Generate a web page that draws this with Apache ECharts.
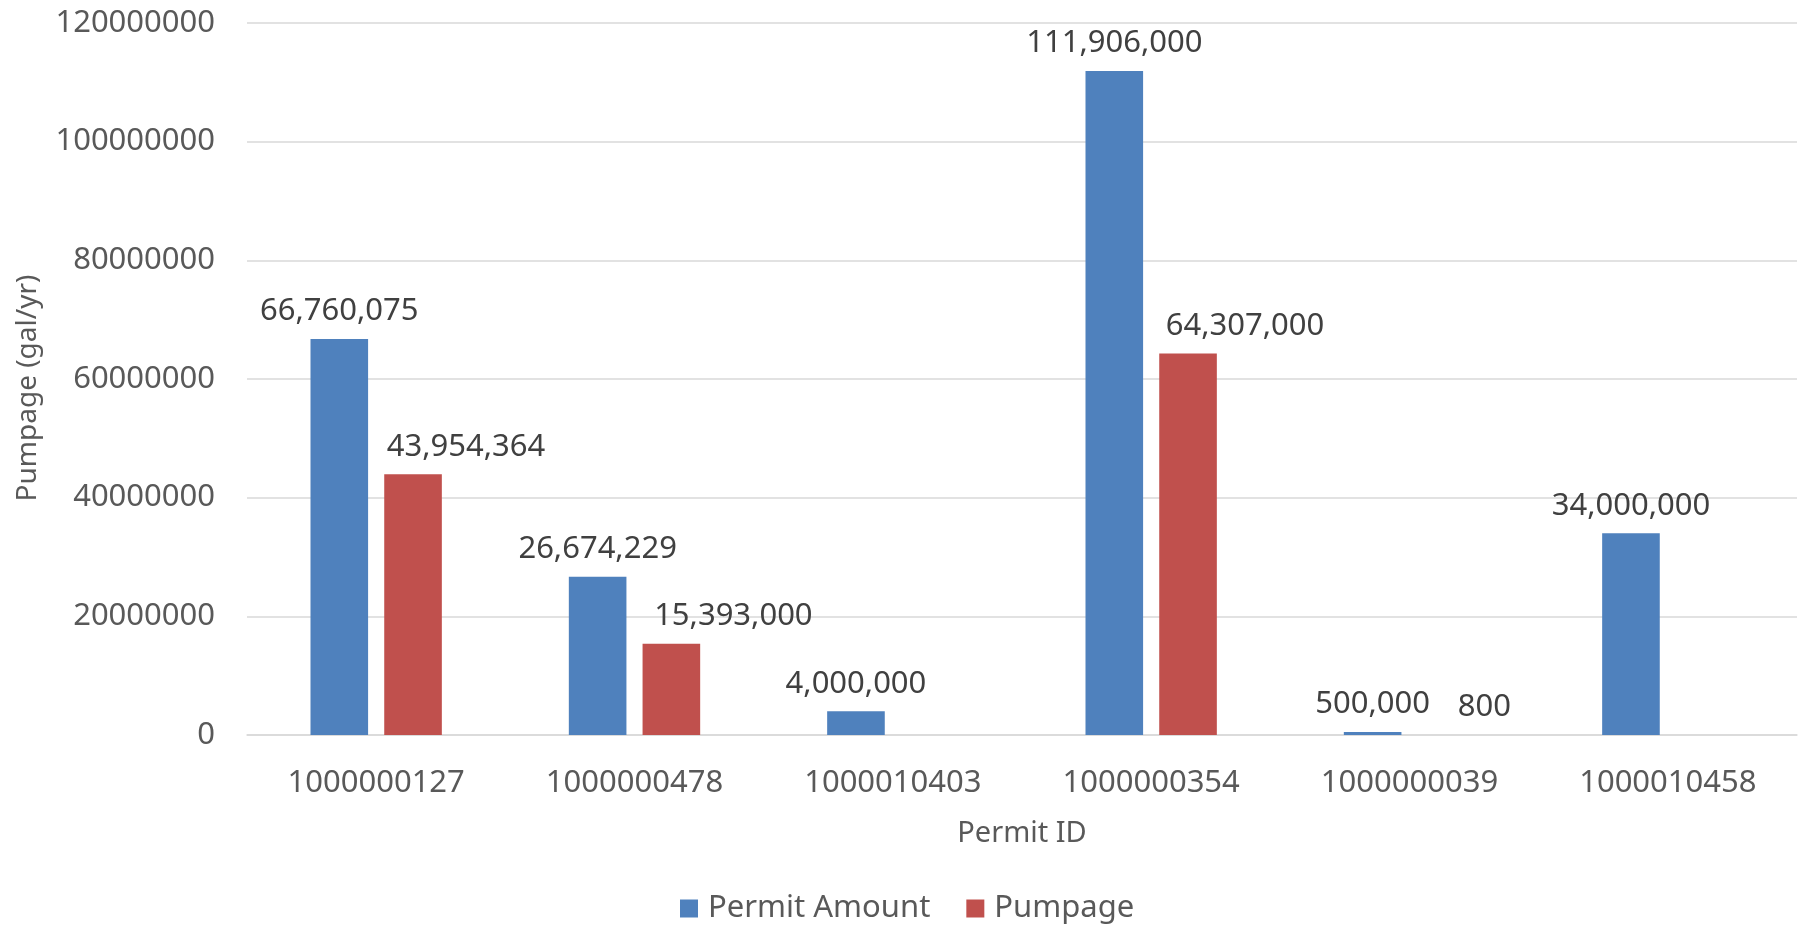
<!DOCTYPE html>
<html>
<head>
<meta charset="utf-8">
<script src="https://cdn.jsdelivr.net/npm/echarts@6/dist/echarts.min.js"></script>
<style>
  html, body { margin: 0; padding: 0; background: #fff; }
  #chart { width: 1805px; height: 925px; }
</style>
</head>
<body>
<div id="chart"></div>
<script>
var permitIds = ['1000000127', '1000000478', '1000010403', '1000000354', '1000000039', '1000010458'];
var permitAmount = [66760075, 26674229, 4000000, 111906000, 500000, 34000000];
var pumpage = [43954364, 15393000, null, 64307000, 800, null];
var yTicks = [0, 20000000, 40000000, 60000000, 80000000, 100000000, 120000000];

// Excel nudged the red labels sideways to dodge the blue ones
var pumpageLabelShift = [53, 62, 0, 57, 38, 0];

var myChart = echarts.init(document.getElementById('chart'));

function fmt(p) {
    return p.value == null ? '' : Number(p.value).toLocaleString('en-US');
}

var labelStyle = {
    show: true,
    position: 'top',
    distance: 12,
    fontFamily: 'Noto Sans',
    fontSize: 31,
    color: '#404040',
    formatter: fmt
};

option = {
    color: ['#4F81BD', '#C0504D'],
    textStyle: { fontFamily: 'Noto Sans' },
    grid: {
        left: 247,
        right: 8,
        top: 23,
        bottom: 190,
        outerBoundsMode: 'none',
        containLabel: false
    },
    legend: {
        bottom: -4,
        left: 675,
        icon: 'rect',
        itemWidth: 18,
        itemHeight: 18,
        itemGap: 36,
        textStyle: { fontSize: 31, color: '#595959', fontFamily: 'Noto Sans', padding: [0, 0, 0, 5] },
        data: ['Permit Amount', 'Pumpage']
    },
    xAxis: {
        type: 'category',
        data: permitIds,
        name: 'Permit ID',
        nameLocation: 'middle',
        nameGap: 84,
        nameTextStyle: { fontSize: 29, color: '#595959' },
        axisLine: { lineStyle: { color: '#D9D9D9', width: 1.5 } },
        axisTick: { show: false },
        axisLabel: { fontSize: 31, color: '#595959', margin: 33 }
    },
    yAxis: {
        type: 'value',
        min: yTicks[0],
        max: yTicks[yTicks.length - 1],
        interval: yTicks[1] - yTicks[0],
        name: 'Pumpage (gal/yr)',
        nameLocation: 'middle',
        nameGap: 205,
        nameTextStyle: { fontSize: 28, color: '#595959', padding: [0, 18, 0, 0] },
        axisLine: { show: false },
        axisTick: { show: false },
        axisLabel: {
            fontSize: 31,
            color: '#595959',
            margin: 32,
            formatter: function (v) { return String(v); }
        },
        splitLine: { lineStyle: { color: '#D9D9D9', width: 1.5 } }
    },
    series: [
        {
            name: 'Permit Amount',
            type: 'bar',
            barWidth: '22.3%',
            barGap: '28%',
            data: permitAmount,
            label: labelStyle
        },
        {
            name: 'Pumpage',
            type: 'bar',
            barWidth: '22.3%',
            data: pumpage.map(function (v, i) {
                return {
                    value: v,
                    label: { offset: [pumpageLabelShift[i], 0] }
                };
            }),
            label: labelStyle
        }
    ]
};

myChart.setOption(option);
</script>
</body>
</html>
